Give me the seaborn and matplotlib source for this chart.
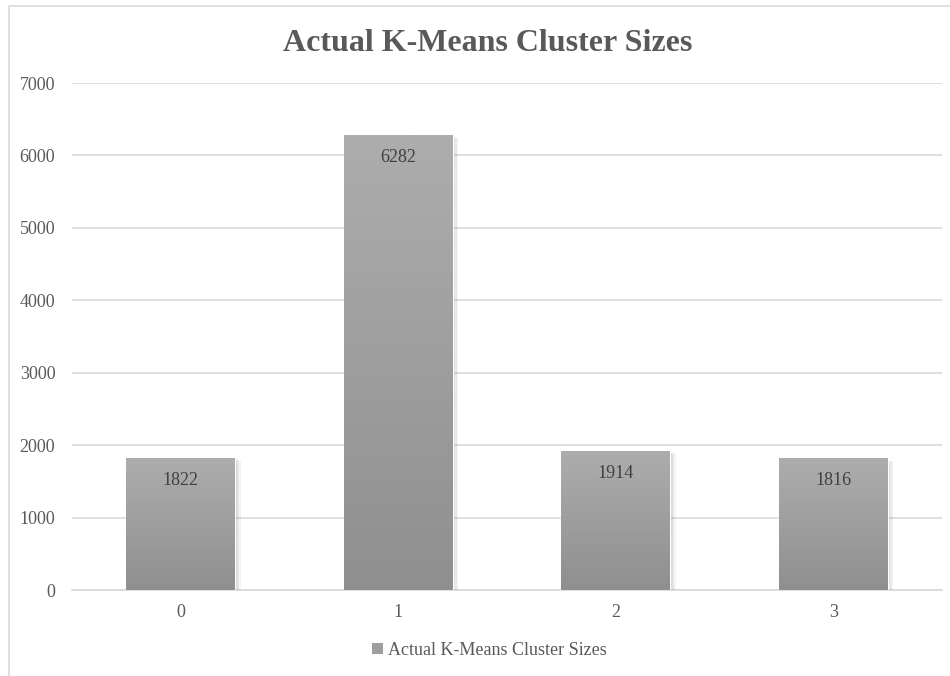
import numpy as np
import pandas as pd
import matplotlib
matplotlib.use("Agg")
import matplotlib.pyplot as plt
import matplotlib.patheffects as pe
from matplotlib.patches import Rectangle
import seaborn as sns

clusters = ["0", "1", "2", "3"]
sizes = [1822, 6282, 1914, 1816]
y_ticks = [0, 1000, 2000, 3000, 4000, 5000, 6000, 7000]
series_name = "Actual K-Means Cluster Sizes"

sns.set_theme(style="white")
plt.rcParams["font.family"] = ["Liberation Serif", "DejaVu Serif"]

text_gray = "#595959"
grid_gray = "#d9d9d9"

df = pd.DataFrame({"cluster": clusters, "size": sizes})

fig = plt.figure(figsize=(9.5, 6.76), dpi=100)
ax = fig.add_axes([0.0758, 0.1272, 0.9158, 0.75])

# outer chart frame (top and left edges visible)
fig.patches.append(Rectangle((9 / 950, -0.05), 1.2, 1 - 6 / 676 + 0.05,
                             transform=fig.transFigure, fill=False,
                             edgecolor=grid_gray, linewidth=1.2))

sns.barplot(data=df, x="cluster", y="size", color="#9e9e9e", width=0.5,
            ax=ax, zorder=3)

ax.set_yticks(y_ticks)
ax.yaxis.grid(True, color=grid_gray, linewidth=1.2, zorder=0)
ax.set_axisbelow(True)
for s in ["top", "right", "left"]:
    ax.spines[s].set_visible(False)
ax.spines["bottom"].set_color(grid_gray)
ax.spines["bottom"].set_linewidth(1.2)
ax.tick_params(axis="both", length=0, labelsize=13, colors=text_gray, pad=12)
ax.tick_params(axis="x", pad=10)
ax.set_xlabel("")
ax.set_ylabel("")

# vertical gray gradient fill on each bar, with a soft drop shadow
grad = np.linspace(0, 1, 256).reshape(-1, 1)
cmap = matplotlib.colors.LinearSegmentedColormap.from_list(
    "bar_grad", ["#8f8f8f", "#adadad"])
soft_shadow = [pe.SimplePatchShadow(offset=(k, -0.5 * k),
                                    shadow_rgbFace="#000000", alpha=0.045)
               for k in (1, 2, 3, 4)] + [pe.Normal()]
for patch, val in zip(ax.patches, sizes):
    x0, y0 = patch.get_x(), patch.get_y()
    w, h = patch.get_width(), patch.get_height()
    patch.set_path_effects(soft_shadow)
    im = ax.imshow(grad, extent=[x0, x0 + w, y0, y0 + h], origin="lower",
                   cmap=cmap, aspect="auto", zorder=4)
    im.set_clip_path(patch)
    ax.annotate(f"{val}", (x0 + w / 2, y0 + h), xytext=(0, -16),
                textcoords="offset points", ha="center", va="center",
                fontsize=13, color="#404040", zorder=5)
ax.set_xlim(-0.5, 3.5)
ax.set_ylim(0, 7000)

fig.text(0.513, 0.936, series_name, ha="center", va="center",
         fontsize=23, fontweight="bold", color=text_gray)

legend_handle = Rectangle((0, 0), 1, 1, facecolor="#9e9e9e", edgecolor="none")
leg = ax.legend([legend_handle], [series_name], loc="center",
                bbox_to_anchor=(0.515, 0.038), bbox_transform=fig.transFigure,
                frameon=False, fontsize=13, handlelength=0.6,
                handleheight=0.6, handletextpad=0.3)
for t in leg.get_texts():
    t.set_color(text_gray)

fig.savefig("out.png", dpi=100, facecolor="white")
